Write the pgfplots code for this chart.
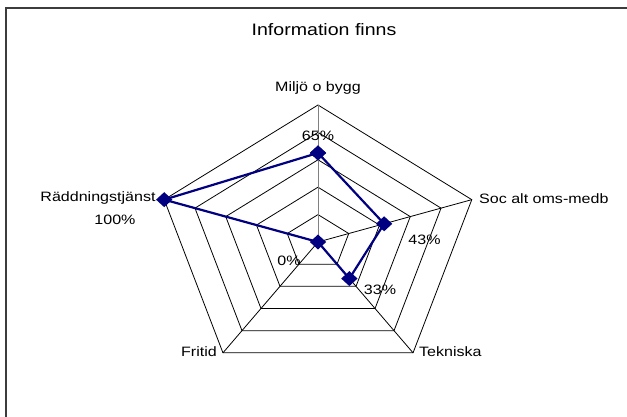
\documentclass[border=0pt]{standalone}
\usepackage{fontspec}
\setmainfont{Liberation Sans}[FakeStretch=1.18]
\usepackage{pgfplots}
\pgfplotsset{compat=1.18}
\definecolor{serie}{RGB}{0,0,128}
\definecolor{ram}{RGB}{60,60,60}

\begin{document}
\begin{tikzpicture}[x=1pt,y=1pt]
\useasboundingbox (0,0) rectangle (627,417);
% ram (syns bara upptill och till vänster)
\draw[ram, line width=1.5pt] (6,0) -- (6,409) -- (627,409);

\begin{axis}[
  at={(318pt,175pt)}, anchor=center,
  scale only axis, width=323.4pt, height=274pt,
  xmin=-100, xmax=100, ymin=-100, ymax=100,
  axis lines=none, ticks=none, clip=false,
  data cs=polar
]
% ringar 20..100 %
\foreach \r in {20,40,60,80,100} {
  \addplot[black, line width=0.8pt, mark=none]
    coordinates {(90,\r)(18,\r)(-54,\r)(-126,\r)(162,\r)(90,\r)};
}
% ekrar
\addplot[black, line width=0.8pt, mark=none] coordinates {(18,0)(18,100)};
\addplot[black, line width=0.8pt, mark=none] coordinates {(-54,0)(-54,100)};
\addplot[black, line width=0.8pt, mark=none] coordinates {(-126,0)(-126,100)};
\addplot[black, line width=0.8pt, mark=none] coordinates {(162,0)(162,100)};
\addplot[gray, line width=1pt, mark=none] coordinates {(90,0)(90,100)};
% serie: Miljö, Soc, Tekniska, Fritid, Räddning
\addplot[serie, line width=2.2pt, mark=diamond*,
  mark size=6pt, mark options={xscale=1.45, solid}]
  coordinates {(90,65)(18,43)(-54,33)(-126,0)(162,100)(90,65)};
\end{axis}

\fontsize{13.6}{16}\selectfont
% rubrik
\node[anchor=base, font=\fontsize{16.6}{19}\selectfont, inner sep=0pt] at (324,381) {Information finns};
% kategorier
\node[anchor=base, inner sep=0pt] at (318,325.5) {Miljö o bygg};
\node[anchor=base west, inner sep=0pt] at (479,213.5) {Soc alt oms-medb};
\node[anchor=base west, inner sep=0pt] at (419,60) {Tekniska};
\node[anchor=base east, inner sep=0pt] at (217,60) {Fritid};
\node[anchor=base, inner sep=0pt] at (98,215) {Räddningstjänst};
% datavärden
\node[anchor=base, inner sep=0pt] at (318,276.5) {65\%};
\node[anchor=base, inner sep=0pt] at (424.5,172.5) {43\%};
\node[anchor=base, inner sep=0pt] at (380,122.5) {33\%};
\node[anchor=base, inner sep=0pt] at (289,151) {0\%};
\node[anchor=base, inner sep=0pt] at (115,192) {100\%};
\end{tikzpicture}
\end{document}
